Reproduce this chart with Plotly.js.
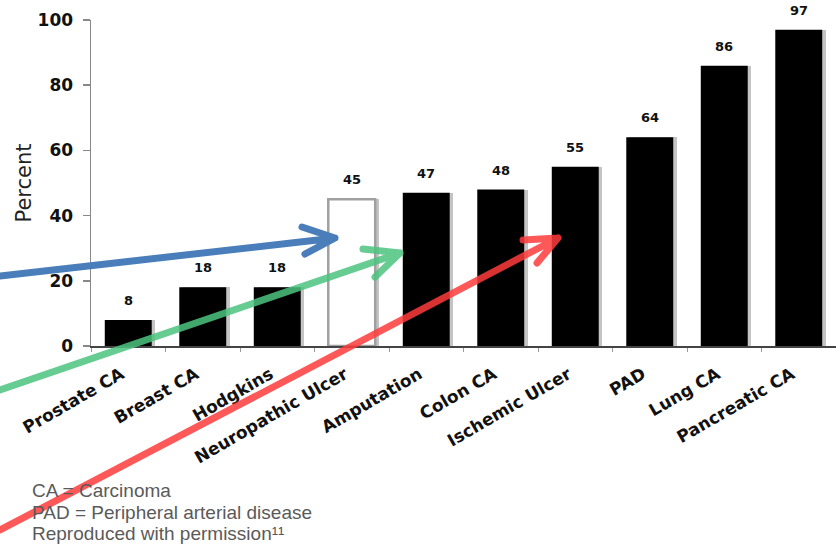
<!DOCTYPE html>
<html>
<head>
<meta charset="utf-8">
<script src="https://cdn.plot.ly/plotly-3.0.1.min.js"></script>
<style>
html,body{margin:0;padding:0;background:#fff;}
#chart{width:836px;height:546px;}
.shapelayer path{stroke-linecap:round;stroke-linejoin:round;}
</style>
</head>
<body>
<div id="chart"></div>
<script>
// ---- data ----
const categories = ['Prostate CA', 'Breast CA', 'Hodgkins', 'Neuropathic Ulcer', 'Amputation',
                    'Colon CA', 'Ischemic Ulcer', 'PAD', 'Lung CA', 'Pancreatic CA'];
const values = [8, 18, 18, 45, 47, 48, 55, 64, 86, 97];
const highlighted = 'Neuropathic Ulcer';
const yTicks = [0, 20, 40, 60, 80, 100];
const footnotes = ['CA = Carcinoma', 'PAD = Peripheral arterial disease', 'Reproduced with permission\u00B9\u00B9'];

// ---- layout geometry ----
const W = 836, H = 546;
const M = {l: 91, r: 0, t: 20, b: 200};
const pw = W - M.l - M.r, ph = H - M.t - M.b;
function px(x) { return (x - M.l) / pw; }
function py(y) { return (H - M.b - y) / ph; }
function pt(p) { return px(p[0]).toFixed(4) + ',' + py(p[1]).toFixed(4); }

// overlay arrows (pixel geometry of the decoration)
const arrows = [
  {from: [0, 276], tip: [335, 238], b1: [302, 227], b2: [305, 254], color: '#4a7ebb', opacity: 1},
  {from: [0, 390], tip: [400, 253], b1: [363, 249], b2: [375, 277], color: '#4cc47f', opacity: 0.85},
  {from: [0, 530], tip: [558, 238], b1: [523, 240], b2: [537, 263], color: '#ff3b3b', opacity: 0.85}
];

const barColors = categories.map(c => c === highlighted ? '#ffffff' : '#000000');
const lineColors = categories.map(c => c === highlighted ? '#a0a0a0' : '#000000');
const lineWidths = categories.map(c => c === highlighted ? 2.5 : 0);

const BW = 0.63;
const shadow = {
  type: 'bar', x: categories, y: values, width: BW, offset: -BW / 2 + 0.045,
  marker: {color: '#c4c4c4', line: {width: 0}}, hoverinfo: 'skip', showlegend: false
};
const bars = {
  type: 'bar', x: categories, y: values, width: BW, offset: -BW / 2,
  marker: {color: barColors, line: {color: lineColors, width: lineWidths}},
  showlegend: false
};

const annotations = categories.map((c, i) => ({
  x: c, y: values[i], xref: 'x', yref: 'y', text: String(values[i]),
  showarrow: false, yanchor: 'bottom', yshift: 10,
  font: {family: 'DejaVu Sans', size: 13, color: '#111', weight: 'bold'}
}));
const footY = [490, 512, 533];
footnotes.forEach((t, i) => annotations.push({
  xref: 'paper', yref: 'paper', x: px(30), y: py(footY[i]), xanchor: 'left', yanchor: 'middle',
  text: t, showarrow: false, font: {family: 'Liberation Sans, Arial', size: 19, color: '#5a5a5a'}
}));

const shapes = arrows.map(a => ({
  type: 'path', xref: 'paper', yref: 'paper', layer: 'above',
  path: 'M' + pt(a.from) + 'L' + pt(a.tip) + 'M' + pt(a.b1) + 'L' + pt(a.tip) + 'L' + pt(a.b2),
  line: {color: a.color, width: 7}, opacity: a.opacity
}));

const layout = {
  width: W, height: H, margin: M,
  paper_bgcolor: '#fff', plot_bgcolor: '#fff',
  barmode: 'overlay', bargap: 0,
  xaxis: {
    type: 'category', showline: true, linecolor: '#444', linewidth: 2,
    ticks: 'outside', tickson: 'boundaries', ticklen: 4, tickcolor: '#999', tickwidth: 1,
    tickangle: -30, ticklabelstandoff: 10, ticklabelshift: -7,
    tickfont: {family: 'DejaVu Sans', size: 17, color: '#111', weight: 'bold'},
    showgrid: false, zeroline: false, automargin: false, fixedrange: true
  },
  yaxis: {
    range: [0, 100], tickvals: yTicks, ticktext: yTicks.map(String),
    showline: true, linecolor: '#888', linewidth: 1.5,
    ticks: 'outside', ticklen: 7, tickcolor: '#888', tickwidth: 1.5, ticklabelstandoff: 6,
    tickfont: {family: 'DejaVu Sans', size: 17, color: '#111', weight: 'bold'},
    title: {text: 'Percent', font: {family: 'DejaVu Sans', size: 21, color: '#222'}, standoff: 0},
    showgrid: false, zeroline: false, automargin: false, fixedrange: true
  },
  annotations: annotations,
  shapes: shapes
};

Plotly.newPlot('chart', [shadow, bars], layout, {staticPlot: true, displayModeBar: false});
</script>
</body>
</html>
